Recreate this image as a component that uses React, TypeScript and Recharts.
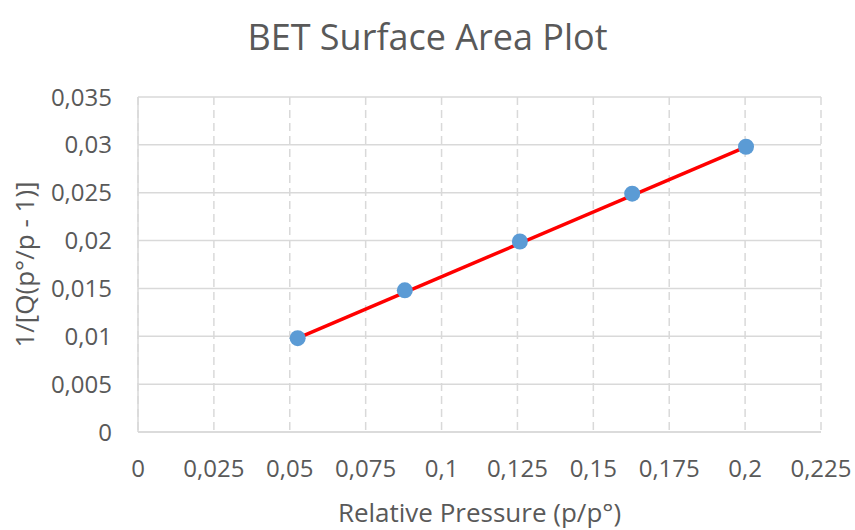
import React from 'react'
import { ScatterChart, Scatter, XAxis, YAxis, CartesianGrid, Label } from 'recharts'

// values
const pressure = [0.0526, 0.0879, 0.1258, 0.1628, 0.2003]
const bet = [0.0098, 0.0148, 0.0199, 0.0249, 0.0298]
const trendX = [0.0526, 0.2003]
const trendY = [0.0098, 0.0298]
const xTicks = [0, 0.025, 0.05, 0.075, 0.1, 0.125, 0.15, 0.175, 0.2, 0.225]
const yTicks = [0, 0.005, 0.01, 0.015, 0.02, 0.025, 0.03, 0.035]

const points = pressure.map((x, i) => ({ x, y: bet[i] }))
const trend = trendX.map((x, i) => ({ x, y: trendY[i] }))

const fmt = (v: number) => String(v).replace('.', ',')
const font = 'Open Sans, sans-serif'
const textColor = '#595959'
const gridColor = '#d9d9d9'

export default function App() {
  return (
    <div style={{ position: 'absolute', left: 0, top: 0, width: 855, height: 530, background: '#fff', fontFamily: font }}>
      <div style={{ position: 'absolute', top: 12, left: 0, width: 855, textAlign: 'center', fontSize: 36, lineHeight: '49px', color: textColor }}>
        BET Surface Area Plot
      </div>
      <ScatterChart width={855} height={530} margin={{ top: 97, right: 34, bottom: 0, left: 18 }}>
        <CartesianGrid horizontal={true} vertical={false} stroke={gridColor} strokeWidth={1.5} />
        <CartesianGrid horizontal={false} vertical={true} stroke={gridColor} strokeWidth={1.5} strokeDasharray="8 5" />
        <XAxis
          type="number"
          dataKey="x"
          domain={[0, 0.225]}
          ticks={xTicks}
          tickFormatter={fmt}
          interval={0}
          stroke={gridColor}
          strokeWidth={1.5}
          tickLine={false}
          tickSize={0}
          tickMargin={28}
          tick={{ fill: textColor, fontSize: 24, fontFamily: font }}
          height={98}
        >
          <Label value="Relative Pressure (p/p°)" position="insideBottom" offset={8} fill={textColor} fontSize={26} fontFamily={font} />
        </XAxis>
        <YAxis
          type="number"
          dataKey="y"
          domain={[0, 0.035]}
          ticks={yTicks}
          tickFormatter={fmt}
          interval={0}
          stroke={gridColor}
          strokeWidth={1.5}
          tickLine={false}
          tickSize={0}
          tickMargin={26}
          tick={{ fill: textColor, fontSize: 24, fontFamily: font }}
          width={120}
        >
          <Label value="1/[Q(p°/p - 1)]" angle={-90} position="insideLeft" offset={0} dx={7} fill={textColor} fontSize={26} fontFamily={font} style={{ textAnchor: 'middle' }} />
        </YAxis>
        <Scatter data={trend} line={{ stroke: '#ff0000', strokeWidth: 3.5 }} shape={() => null} isAnimationActive={false} />
        <Scatter data={points} fill="#5b9bd5" shape={(p: any) => <circle cx={p.cx} cy={p.cy} r={8} fill="#5b9bd5" />} isAnimationActive={false} />
      </ScatterChart>
    </div>
  )
}
